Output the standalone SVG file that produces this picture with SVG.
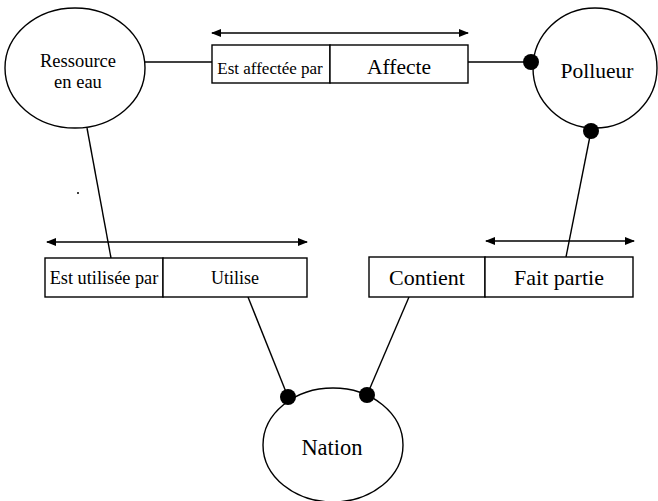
<svg xmlns="http://www.w3.org/2000/svg" width="658" height="501" viewBox="0 0 658 501">
<style>
.n{fill:none;stroke:#000;stroke-width:1.4}
.b{fill:#fff;stroke:#000;stroke-width:1.4}
.c{stroke:#000;stroke-width:1.4;fill:none}
.d{fill:#000}
.t{fill:#000;text-anchor:middle}
.a{stroke:#000;stroke-width:1.4;fill:none;marker-start:url(#ah);marker-end:url(#ah)}
</style>
<defs>
<marker id="ah" viewBox="0 0 10 8" refX="9" refY="4" markerWidth="10" markerHeight="8" markerUnits="userSpaceOnUse" orient="auto-start-reverse">
<path d="M0,0 L10,4 L0,8 z" fill="#000"/>
</marker>
</defs>
<rect width="658" height="501" fill="#fff"/>
<g id="connectors">
<line class="c" x1="145" y1="62" x2="212" y2="62"/>
<line class="c" x1="468" y1="62" x2="531" y2="62"/>
<line class="c" x1="591" y1="131" x2="566" y2="257"/>
<line class="c" x1="87" y1="128" x2="111" y2="258"/>
<line class="c" x1="248" y1="297" x2="288" y2="397"/>
<line class="c" x1="409" y1="297" x2="367" y2="395"/>
<line class="a" x1="212" y1="33" x2="468" y2="33"/>
<line class="a" x1="47" y1="242" x2="307" y2="242"/>
<line class="a" x1="486" y1="241" x2="634" y2="241"/>
<circle class="d" cx="531" cy="62" r="8"/>
<circle class="d" cx="591" cy="131" r="8"/>
<circle class="d" cx="288" cy="397" r="8"/>
<circle class="d" cx="367" cy="395" r="8"/>
<circle class="d" cx="78" cy="193" r="1"/>
</g>
<g font-family="'Liberation Serif', 'Times New Roman', 'DejaVu Serif', serif">
<g id="ressource">
<ellipse class="n" cx="75" cy="68" rx="70" ry="60"/>
<text class="t" x="78" y="67" font-size="18.5">Ressource</text>
<text class="t" x="78" y="88" font-size="18.5">en eau</text>
</g>
<g id="pollueur">
<ellipse class="n" cx="595" cy="68" rx="62" ry="60"/>
<text class="t" x="597" y="78" font-size="21.5">Pollueur</text>
</g>
<g id="nation">
<ellipse class="n" cx="333" cy="445" rx="70" ry="57"/>
<text class="t" x="332" y="455" font-size="22.5">Nation</text>
</g>
<g id="rel-affecte">
<rect class="b" x="212" y="45" width="118" height="38"/>
<rect class="b" x="330" y="45" width="138" height="38"/>
<text class="t" x="270" y="74" font-size="17">Est affectée par</text>
<text class="t" x="399" y="74" font-size="21.5">Affecte</text>
</g>
<g id="rel-utilise">
<rect class="b" x="45" y="258" width="118" height="39"/>
<rect class="b" x="163" y="258" width="144" height="39"/>
<text class="t" x="104" y="284" font-size="18.3">Est utilisée par</text>
<text class="t" x="235" y="284" font-size="18">Utilise</text>
</g>
<g id="rel-contient">
<rect class="b" x="369" y="257" width="116" height="40"/>
<rect class="b" x="485" y="257" width="148" height="40"/>
<text class="t" x="427" y="285" font-size="22">Contient</text>
<text class="t" x="559" y="285" font-size="22">Fait partie</text>
</g>
</g>
</svg>
